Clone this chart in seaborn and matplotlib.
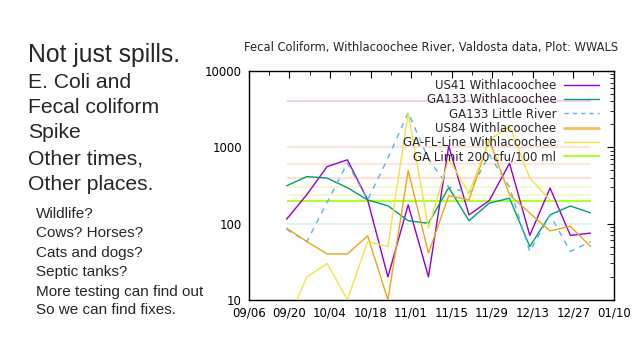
import numpy as np
import pandas as pd

import matplotlib
matplotlib.use("Agg")
import matplotlib.pyplot as plt
import matplotlib.dates as mdates
from matplotlib.lines import Line2D
from matplotlib.ticker import LogLocator, FixedLocator, NullFormatter
import seaborn as sns

# ======================================================
# DATA
# ======================================================

sample_dates = [
    "2023-09-19", "2023-09-26", "2023-10-03", "2023-10-10",
    "2023-10-17", "2023-10-24", "2023-10-31", "2023-11-07",
    "2023-11-14", "2023-11-21", "2023-11-28", "2023-12-05",
    "2023-12-12", "2023-12-19", "2023-12-26", "2024-01-02",
]

us41_withlacoochee = [114, 240, 558, 684, 204, 20, 176, 20,
                      1040, 130, 200, 615, 70, 292, 70, 75]
ga133_withlacoochee = [312, 413, 394, 295, 204, 171, 109, 101,
                       297, 109, 185, 215, 50, 130, 170, 138]
ga133_little_river = [84, 58, 190, 620, 204, 720, 2850, 700,
                      300, 250, 800, 300, 43, 130, 43, 58]
us84_withlacoochee = [87, 58, 40, 40, 69, 10, 495, 41,
                      231, 204, 1250, 238, 137, 80, 92, 50]
ga_fl_line_withlacoochee = [5, 20, 30, 10, 58, 50, 2800, 87,
                            700, 250, 1250, 1870, 394, 204, np.nan, np.nan]

series_names = [
    "US41 Withlacoochee",
    "GA133 Withlacoochee",
    "GA133 Little River",
    "US84 Withlacoochee",
    "GA-FL-Line Withlacoochee",
]
series_colors = ["#9400d3", "#009e73", "#56b4e9", "#eda31a", "#f0e442"]

ga_limit = 200
reference_levels = [4000, 1000, 600, 400, 300, 235, 100]
reference_colors = ["#f2c8f2", "#ffdcd4", "#ffe0d4", "#ffdccc",
                    "#f8f8c8", "#f4f8c0", "#d8f4ec"]

title = "Fecal Coliform, Withlacoochee River, Valdosta data, Plot: WWALS"

headline = ["Not just spills.", "E. Coli and", "Fecal coliform",
            "Spike", "Other times,", "Other places."]
questions = ["Wildlife?", "Cows? Horses?", "Cats and dogs?",
             "Septic tanks?", "More testing can find out",
             "So we can find fixes."]

# ======================================================
# FRAME
# ======================================================

dates = pd.to_datetime(sample_dates)
values = [us41_withlacoochee, ga133_withlacoochee, ga133_little_river,
          us84_withlacoochee, ga_fl_line_withlacoochee]

df = pd.concat([
    pd.DataFrame({"date": dates, "cfu": vals, "site": name})
    for name, vals in zip(series_names, values)
])

# ======================================================
# PLOT
# ======================================================

sns.set_theme(style="white")
plt.rcParams["font.family"] = ["DejaVu Sans"]

fig = plt.figure(figsize=(6.4, 3.6), dpi=100)
ax = fig.add_axes([0.389, 0.167, 0.570, 0.636])

# faint reference levels
for level, color in zip(reference_levels, reference_colors):
    ax.hlines(level, dates[0], dates[-1], color=color, linewidth=1.2, zorder=1)

ax.hlines(ga_limit, dates[0], dates[-1], color="#adff2f", linewidth=1.5, zorder=2)

for name, color in zip(series_names, series_colors):
    sub = df[df["site"] == name]
    sns.lineplot(
        data=sub, x="date", y="cfu", ax=ax,
        color=color, linewidth=1.0,
        linestyle=(0, (4, 4)) if name == "GA133 Little River" else "-",
        legend=False, zorder=3,
    )

ax.set_yscale("log")
ax.set_ylim(10, 10000)
ax.set_xlim(pd.Timestamp("2023-09-06"), pd.Timestamp("2024-01-10"))

major_dates = pd.date_range("2023-09-06", "2024-01-10", freq="14D")
minor_dates = pd.date_range("2023-09-06", "2024-01-10", freq="7D")
ax.xaxis.set_major_locator(FixedLocator(mdates.date2num(major_dates)))
ax.xaxis.set_minor_locator(FixedLocator(mdates.date2num(minor_dates)))
ax.xaxis.set_major_formatter(mdates.DateFormatter("%m/%d"))

ax.yaxis.set_major_locator(FixedLocator([10, 100, 1000, 10000]))
ax.yaxis.set_minor_locator(LogLocator(base=10, subs=np.arange(2, 10)))
ax.yaxis.set_minor_formatter(NullFormatter())
ax.set_yticklabels(["10", "100", "1000", "10000"])

ax.tick_params(which="both", direction="in", top=True, right=True,
               colors="black", labelsize=8.5)
ax.tick_params(which="major", length=5, width=0.8)
ax.tick_params(axis="y", which="major", pad=5)
ax.tick_params(axis="x", which="major", pad=5)
ax.tick_params(which="minor", length=3, width=0.6)

for spine in ax.spines.values():
    spine.set_color("black")
    spine.set_linewidth(1.0)

ax.set_xlabel("")
ax.set_ylabel("")
ax.grid(False)

ax.set_title(title, fontsize=8.3, pad=14)

handles = [
    Line2D([], [], color=series_colors[0], lw=1.0),
    Line2D([], [], color=series_colors[1], lw=1.0),
    Line2D([], [], color=series_colors[2], lw=1.0, linestyle=(0, (3, 3))),
    Line2D([], [], color="#f5c060", lw=2.0),
    Line2D([], [], color=series_colors[4], lw=1.0),
    Line2D([], [], color="#adff2f", lw=1.5),
]
labels = series_names + ["GA Limit 200 cfu/100 ml"]
ax.legend(handles, labels, loc="upper right", frameon=False,
          markerfirst=False, fontsize=8.5, handlelength=3.0,
          labelspacing=0.1, borderaxespad=0.3, handletextpad=0.6,
          bbox_to_anchor=(0.982, 1.0))

# ======================================================
# SIDE TEXT
# ======================================================

text_font = ["Liberation Sans", "DejaVu Sans"]
y_big = [55, 82, 107, 133, 159, 184]
for i, (line, y) in enumerate(zip(headline, y_big)):
    fig.text(28 / 640, 1 - y / 360, line, family=text_font,
             fontsize=17.8 if i == 0 else 15.2, va="center", ha="left")

y_small = [214, 233, 253, 272, 292, 310]
for line, y in zip(questions, y_small):
    fig.text(36 / 640, 1 - y / 360, line, family=text_font,
             fontsize=11.0, va="center", ha="left")

fig.savefig("out.png", dpi=100)
